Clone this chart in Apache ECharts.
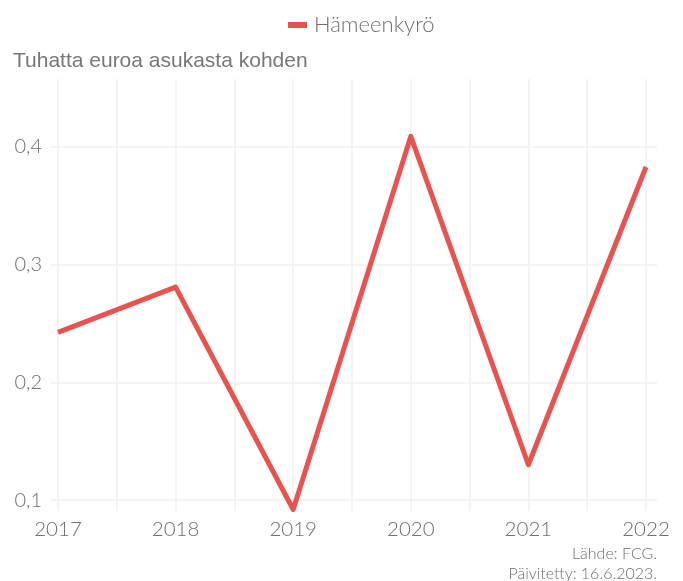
<!DOCTYPE html>
<html>
<head>
<meta charset="utf-8">
<script src="https://cdn.jsdelivr.net/npm/echarts@6/dist/echarts.min.js"></script>
<style>
  html, body { margin: 0; padding: 0; background: #ffffff; }
  #chart { width: 683px; height: 581px; }
</style>
</head>
<body>
<div id="chart"></div>
<script>
// Municipal figure per inhabitant, thousands of euros
const years = [2017, 2018, 2019, 2020, 2021, 2022];
const values = [0.2425, 0.281, 0.092, 0.409, 0.130, 0.383];
const seriesName = 'Hämeenkyrö';
const yTitle = 'Tuhatta euroa asukasta kohden';
const sourceLines = ['Lähde: FCG.', 'Päivitetty: 16.6.2023.'];

const yMin = 0.0907;
const yMax = 0.4578;
const lineColor = '#e8524f';
const textColor = '#6f6f6f';
const gridColor = '#f0f0f0';
const fontMain = 'Lato';

const chart = echarts.init(document.getElementById('chart'), null, { renderer: 'canvas' });

chart.setOption({
  animation: false,
  backgroundColor: '#ffffff',
  title: [{
    text: yTitle,
    left: 13,
    top: 51,
    padding: 0,
    textStyle: { fontFamily: 'Liberation Sans', fontWeight: 'normal', fontSize: 21, color: '#777777' }
  }],
  graphic: sourceLines.map((line, i) => ({
    type: 'text',
    right: 26,
    top: 546 + i * 20,
    style: {
      text: line,
      fill: textColor,
      font: '300 16px Lato',
      textAlign: 'right'
    }
  })),
  legend: {
    left: 283,
    top: 9,
    itemWidth: 19,
    itemHeight: 6,
    itemGap: 10,
    icon: 'rect',
    data: [seriesName],
    textStyle: { fontFamily: fontMain, fontWeight: 300, fontSize: 22, color: textColor, padding: [0, 0, 0, 2] }
  },
  grid: [
    // wide grid: carries the value axis labels and horizontal rules
    { left: 51, right: 26, top: 79, bottom: 70, containLabel: false },
    // data grid: years span exactly this width
    { left: 58, right: 37, top: 79, bottom: 70, containLabel: false }
  ],
  xAxis: [
    { type: 'value', gridIndex: 0, min: 0, max: 1, show: false },
    {
      type: 'value',
      gridIndex: 1,
      min: years[0],
      max: years[years.length - 1],
      interval: 1,
      axisLine: { show: false },
      axisTick: { show: false },
      axisLabel: {
        margin: 8,
        color: textColor,
        fontFamily: fontMain,
        fontWeight: 300,
        fontSize: 20.5,
        formatter: v => String(v)
      },
      splitLine: { show: true, lineStyle: { color: gridColor, width: 1.5 } },
      minorTick: { show: false, splitNumber: 2 },
      minorSplitLine: { show: true, lineStyle: { color: gridColor, width: 1.5 } }
    }
  ],
  yAxis: [
    {
      type: 'value',
      gridIndex: 0,
      min: yMin,
      max: yMax,
      splitNumber: 4,
      axisLine: { show: false },
      axisTick: { show: false },
      axisLabel: {
        margin: 9,
        showMinLabel: false,
        showMaxLabel: false,
        color: textColor,
        fontFamily: fontMain,
        fontWeight: 300,
        fontSize: 20,
        formatter: v => v.toFixed(1).replace('.', ',')
      },
      splitLine: { show: true, showMinLine: false, showMaxLine: false, lineStyle: { color: gridColor, width: 1.5 } }
    },
    { type: 'value', gridIndex: 1, min: yMin, max: yMax, show: false }
  ],
  series: [{
    name: seriesName,
    type: 'line',
    xAxisIndex: 1,
    yAxisIndex: 1,
    data: years.map((y, i) => [y, values[i]]),
    symbol: 'none',
    clip: false,
    color: lineColor,
    lineStyle: { color: lineColor, width: 5, join: 'round', cap: 'butt' }
  }]
});
</script>
</body>
</html>
